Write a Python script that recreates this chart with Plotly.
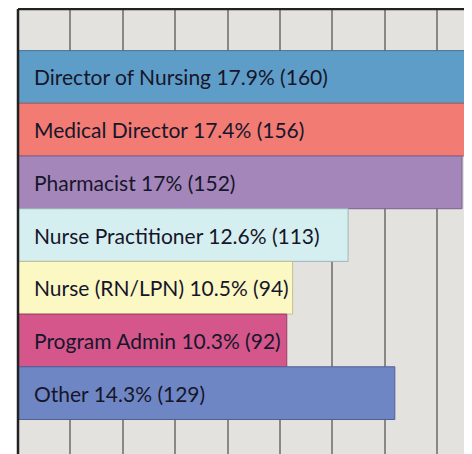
import plotly.graph_objects as go

roles = ["Director of Nursing", "Medical Director", "Pharmacist", "Nurse Practitioner",
         "Nurse (RN/LPN)", "Program Admin", "Other"]
percents = ["17.9%", "17.4%", "17%", "12.6%", "10.5%", "10.3%", "14.3%"]
counts = [160, 156, 152, 113, 94, 92, 129]
colors = ["#5f9dc9", "#f27b74", "#a586ba", "#d5eef0", "#fcf8c4", "#d4568b", "#6f86c5"]
outlines = ["#3f6f93", "#b95a55", "#7b6190", "#9fb5b8", "#c4bf8e", "#9c3b64", "#4f6196"]

ypos = list(range(len(roles)))
labels = [f"{r} {p} ({c})" for r, p, c in zip(roles, percents, counts)]

fig = go.Figure()
fig.add_trace(go.Bar(
    x=counts, y=ypos, orientation="h",
    marker=dict(color=colors, line=dict(color=outlines, width=1)),
    width=1.0, hoverinfo="skip",
))

for y, lab in zip(ypos, labels):
    fig.add_annotation(x=0, y=y, xref="x", yref="y", text=lab, showarrow=False,
                       xanchor="left", yanchor="middle", xshift=14,
                       font=dict(family="Lato, Open Sans, sans-serif", size=21, color="#16162a"))

fig.update_xaxes(range=[0, 153.7], tick0=0, dtick=17.93, showgrid=True,
                 gridcolor="#8a8886", gridwidth=1.5, showticklabels=False,
                 zeroline=False, showline=False, ticks="")
fig.update_yaxes(range=[7.155, -1.29], showgrid=False, showticklabels=False,
                 zeroline=False, showline=False, ticks="")

# frame: left, top, right
fig.add_shape(type="line", xref="paper", yref="paper", x0=0, x1=0, y0=0, y1=1,
              line=dict(color="#222222", width=2.5))
fig.add_shape(type="line", xref="paper", yref="paper", x0=0, x1=1, y0=1, y1=1,
              line=dict(color="#222222", width=2.5))
fig.add_shape(type="line", xref="paper", yref="paper", x0=1, x1=1, y0=0, y1=1,
              line=dict(color="#222222", width=2.5))

fig.update_layout(
    width=464, height=446,
    margin=dict(l=10, r=5, t=1, b=0),
    plot_bgcolor="#e4e2de", paper_bgcolor="#ffffff",
    showlegend=False,
)

fig.write_html("out.html")
